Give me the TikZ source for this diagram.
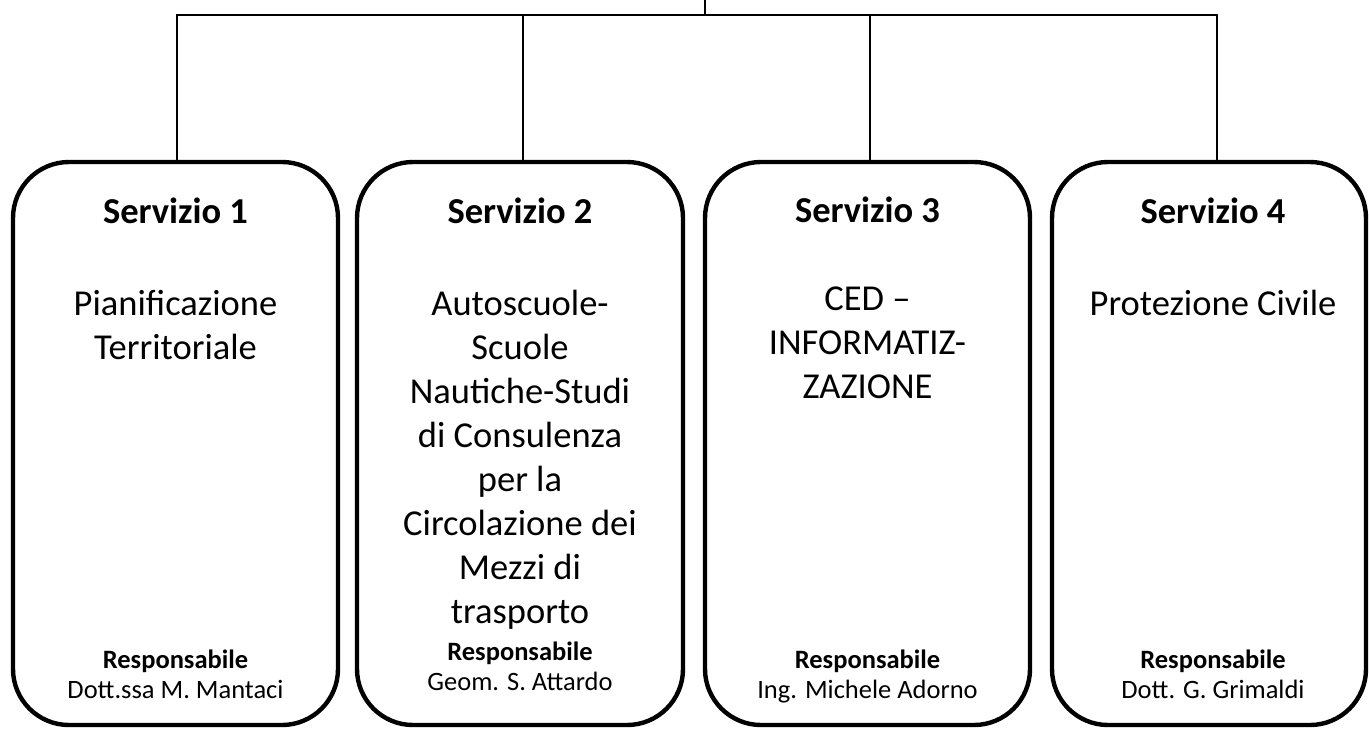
\documentclass[tikz,border=0pt]{standalone}
\usepackage{fontspec}
\setmainfont{Carlito}
\begin{document}
\begin{tikzpicture}[x=0.5pt,y=-0.5pt,
  svcbox/.style={draw=black, line width=2.2pt, rounded corners=28pt, inner sep=0pt},
  conn/.style={draw=black, line width=1pt},
  title/.style={anchor=base, inner sep=0pt, font=\fontsize{18.25}{22}\selectfont\bfseries},
  body/.style={anchor=base, inner sep=0pt, align=center, font=\fontsize{18.25}{22}\selectfont},
  resp/.style={anchor=base, inner sep=0pt, align=center, font=\fontsize{13.25}{15}\selectfont}
]
\useasboundingbox (0,0) rectangle (1369,729);
% boxes
\node[svcbox, minimum width=162.5pt, minimum height=281.5pt] (b1) at (175.5,443.5) {};
\node[svcbox, minimum width=163pt, minimum height=281.5pt] (b2) at (520,443.5) {};
\node[svcbox, minimum width=162.5pt, minimum height=281.5pt] (b3) at (867.5,443.5) {};
\node[svcbox, minimum width=157pt, minimum height=281.5pt] (b4) at (1209,443.5) {};
% connectors
\coordinate (root) at (705,0);
\coordinate (hub) at (705,15);
\coordinate (t1) at (177,162);
\coordinate (t2) at (523,162);
\coordinate (t3) at (870,162);
\coordinate (t4) at (1217,162);
\draw[conn] (root) -- (hub);
\draw[conn] (t1) |- (hub) -| (t4);
\draw[conn] (t2) -- (t2 |- hub);
\draw[conn] (t3) -- (t3 |- hub);
% titles
\node[title] (s1) at (175.5,223) {Servizio 1};
\node[title] (s2) at (520,223) {Servizio 2};
\node[title] (s3) at (867.5,222) {Servizio 3};
\node[title] (s4) at (1213,223) {Servizio 4};
% bodies (anchor = baseline of last line)
\node[body] (d1) at (175.5,359) {Pianificazione\\Territoriale};
\node[body] (d2) at (520,623) {Autoscuole-\\Scuole\\Nautiche-Studi\\di Consulenza\\per la\\Circolazione dei\\Mezzi di\\trasporto};
\node[body] (d3) at (867.5,398) {CED --\\INFORMATIZ-\\ZAZIONE};
\node[body] (d4) at (1213,315) {Protezione Civile};
% responsabili
\node[resp] (r1) at (175.5,698) {\textbf{Responsabile}\\Dott.ssa M. Mantaci};
\node[resp] (r2) at (520,690) {\textbf{Responsabile}\\Geom. S. Attardo};
\node[resp] (r3) at (867.5,698) {\textbf{Responsabile}\\Ing. Michele Adorno};
\node[resp] (r4) at (1213,698) {\textbf{Responsabile}\\Dott. G. Grimaldi};
\end{tikzpicture}
\end{document}
